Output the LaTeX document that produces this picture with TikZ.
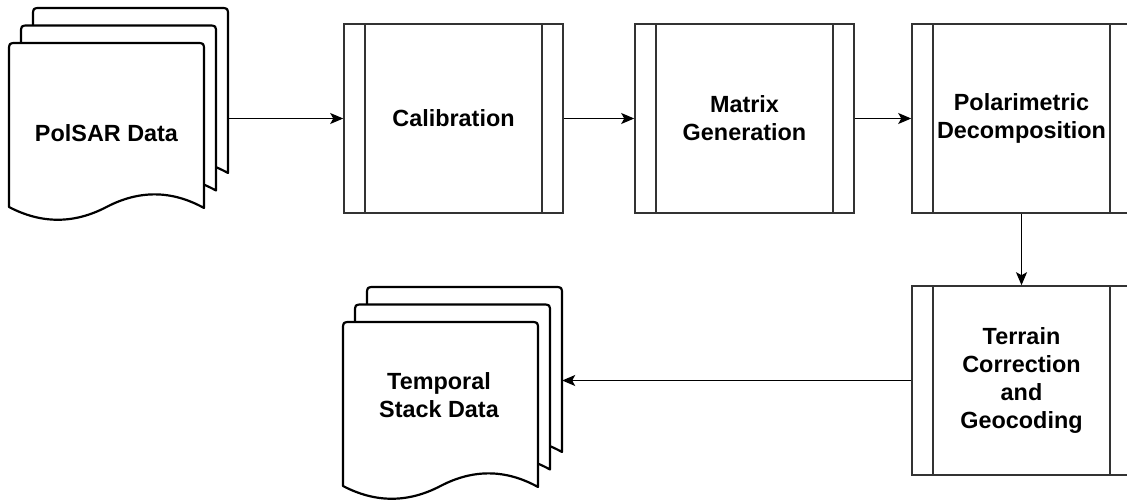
\documentclass[tikz,border=0pt]{standalone}
\usepackage{fontspec}
\setmainfont{Liberation Sans}
\usepackage{xcolor}
\usepackage{tikz}
\usetikzlibrary{shapes,positioning,calc,arrows.meta}

% one sheet of a stacked document, top-left corner at (#1,#2)
\newcommand{\docpage}[2]{%
  \draw[docline] (#1,#2+164) -- (#1,#2+8) .. controls (#1,#2) .. (#1+8,#2)
    -- (#1+187,#2) .. controls (#1+195,#2) .. (#1+195,#2+8)
    -- (#1+195,#2+165) .. controls (#1+162.5,#2+147) and (#1+130,#2+147) .. (#1+97.5,#2+164)
    .. controls (#1+65,#2+181) and (#1+32.5,#2+181) .. (#1,#2+164) -- cycle;}
% three sheets, back to front
\newcommand{\docstack}[2]{%
  \docpage{#1+24}{#2}\docpage{#1+12}{#2+17.5}\docpage{#1}{#2+35}}

\begin{document}
\begin{tikzpicture}[x=1pt,y=-1pt,
    docline/.style={draw=black, line width=2.2pt, fill=white, line join=round},
    stackframe/.style={minimum width=219pt, minimum height=211pt, inner sep=0pt},
    boldtext/.style={align=center, font=\bfseries\fontsize{23.4}{28}\selectfont},
    procbox/.style={boldtext, draw=black!80, line width=1.6pt, minimum width=219pt, minimum height=189pt, inner sep=0pt},
    procline/.style={draw=black!80, line width=1.6pt},
    flow/.style={draw=black, line width=1.3pt, -{Stealth[length=13pt,width=11pt,inset=3pt]}}]
    \useasboundingbox (0,0) rectangle (1127,500);

    % Input data stack
    \docstack{9}{8}
    \node[stackframe] (polsar) at (118.5,113.5) {};
    \node[boldtext] (polsar-label) at (106.5,133) {PolSAR Data};

    % Processing chain
    \node[procbox] (calib) at (453.5,118.5) {Calibration};
    \node[procbox] (matgen) at (744.5,118.5) {Matrix\\Generation};
    \node[procbox] (poldec) at (1021.5,118.5) {Polarimetric\\Decomposition};
    \node[procbox] (terrain) at (1021.5,380.5) {Terrain\\Correction\\and\\Geocoding};
    \foreach \n in {calib,matgen,poldec,terrain} {
        \draw[procline] ([xshift=22pt]\n.north west) -- ([xshift=22pt]\n.south west);
        \draw[procline] ([xshift=-22pt]\n.north east) -- ([xshift=-22pt]\n.south east);
    }

    % Output data stack
    \docstack{343}{287}
    \node[stackframe] (tstack) at (452.5,392.5) {};
    \node[boldtext] (tstack-label) at (439,395) {Temporal\\Stack Data};

    % Connectors
    \draw[flow] (polsar.east |- calib.west) -- (calib.west);
    \draw[flow] (calib.east) -- (matgen.west);
    \draw[flow] (matgen.east) -- (poldec.west);
    \draw[flow] (poldec.south) -- (terrain.north);
    \draw[flow] (terrain.west) -- (terrain.west -| tstack.east);
\end{tikzpicture}
\end{document}
